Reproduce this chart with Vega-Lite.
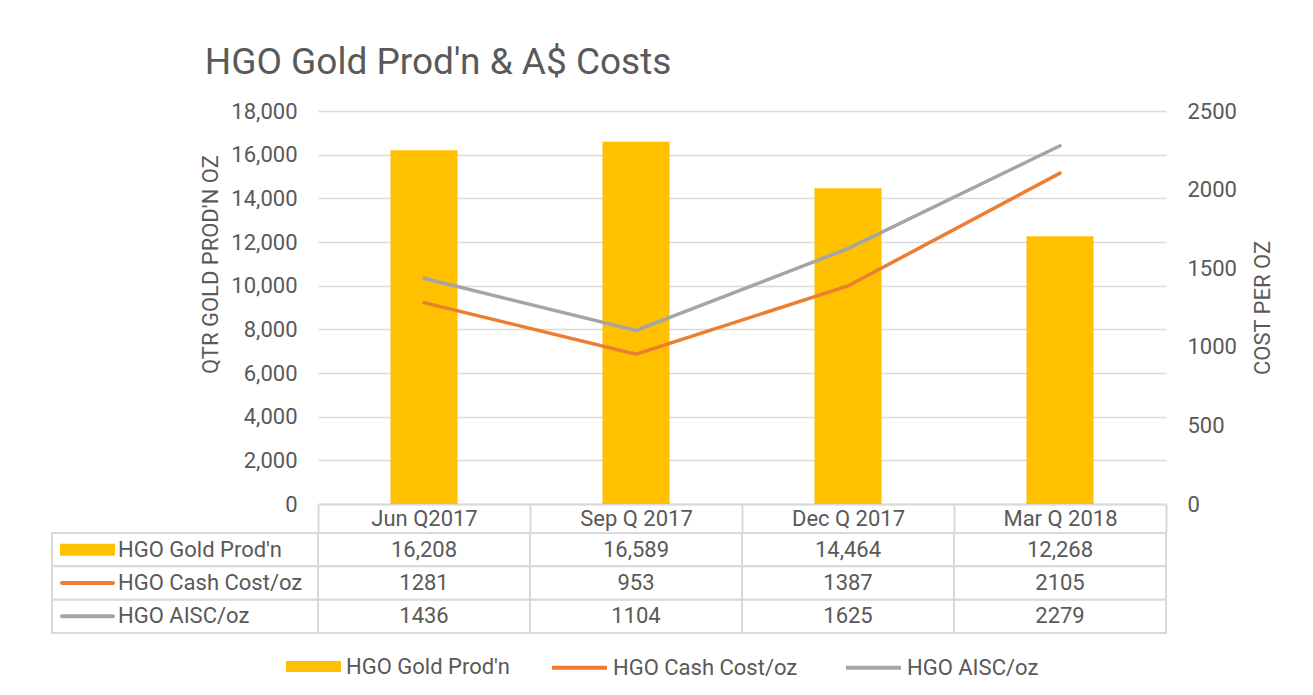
{
  "$schema": "https://vega.github.io/schema/vega-lite/v6.json",
  "background": "white",
  "padding": {"left": 51, "top": 44, "right": 5, "bottom": 5},
  "config": {
    "view": {"stroke": null},
    "font": "Roboto",
    "axis": {"labelFont": "Roboto", "titleFont": "Roboto", "labelColor": "#595959", "titleColor": "#595959", "labelFontSize": 22, "titleFontSize": 22, "titleFontWeight": "normal"},
    "legend": {"labelFont": "Roboto", "labelFontSize": 22, "labelColor": "#595959", "orient": "bottom", "direction": "horizontal", "title": null, "labelLimit": 400, "offset": 4,
      "layout": {"bottom": {"anchor": "middle", "direction": "horizontal", "margin": 40}}}
  },
  "datasets": {
    "main": [
      {"quarter": "Jun Q2017", "series": "HGO Gold Prod'n", "value": 16208},
      {"quarter": "Sep Q 2017", "series": "HGO Gold Prod'n", "value": 16589},
      {"quarter": "Dec Q 2017", "series": "HGO Gold Prod'n", "value": 14464},
      {"quarter": "Mar Q 2018", "series": "HGO Gold Prod'n", "value": 12268},
      {"quarter": "Jun Q2017", "series": "HGO Cash Cost/oz", "value": 1281},
      {"quarter": "Sep Q 2017", "series": "HGO Cash Cost/oz", "value": 953},
      {"quarter": "Dec Q 2017", "series": "HGO Cash Cost/oz", "value": 1387},
      {"quarter": "Mar Q 2018", "series": "HGO Cash Cost/oz", "value": 2105},
      {"quarter": "Jun Q2017", "series": "HGO AISC/oz", "value": 1436},
      {"quarter": "Sep Q 2017", "series": "HGO AISC/oz", "value": 1104},
      {"quarter": "Dec Q 2017", "series": "HGO AISC/oz", "value": 1625},
      {"quarter": "Mar Q 2018", "series": "HGO AISC/oz", "value": 2279}
    ],
    "rows": [
      {"series": "HGO Gold Prod'n"},
      {"series": "HGO Cash Cost/oz"},
      {"series": "HGO AISC/oz"}
    ]
  },
  "columns": 2,
  "spacing": {"row": 29, "column": 0},
  "bounds": "flush",
  "concat": [
    {
      "width": 266, "height": 393,
      "data": {"name": "rows"},
      "mark": {"type": "point", "opacity": 0},
      "encoding": {}
    },
    {
      "width": 848, "height": 393,
      "data": {"name": "main"},
      "title": {"text": "HGO Gold Prod'n & A$ Costs", "anchor": "start", "fontSize": 37, "font": "Roboto", "fontWeight": "normal", "color": "#595959", "offset": 18, "dx": 5},
      "encoding": {
        "x": {"field": "quarter", "type": "nominal", "sort": null,
          "scale": {"domain": ["Jun Q2017", "Sep Q 2017", "Dec Q 2017", "Mar Q 2018"], "paddingInner": 0, "paddingOuter": 0},
          "axis": {"title": null, "labelAngle": 0, "tickBand": "extent", "tickSize": 29, "tickColor": "#D9D9D9", "tickWidth": 2, "domainColor": "#D9D9D9", "domainWidth": 2, "labelPadding": -25, "labelBaseline": "top"}}
      },
      "layer": [
        {
          "transform": [{"filter": {"field": "series", "equal": "HGO Gold Prod'n"}}],
          "mark": {"type": "bar", "width": {"band": 0.316}},
          "encoding": {
            "y": {"field": "value", "type": "quantitative",
              "scale": {"domain": [0, 18000], "nice": false},
              "axis": {"title": "QTR GOLD PROD'N OZ", "values": [0, 2000, 4000, 6000, 8000, 10000, 12000, 14000, 16000, 18000], "format": ",d", "domain": false, "ticks": false, "labelPadding": 21, "gridColor": "#D9D9D9", "gridWidth": 1.5, "titlePadding": 8, "titleY": 153, "titleAlign": "center"}},
            "fill": {"field": "series", "type": "nominal",
              "scale": {"domain": ["HGO Gold Prod'n"], "range": ["#FFC000"]},
              "legend": {"symbolType": "M-1,-0.2H1V0.2H-1Z", "symbolSize": 3025, "labelOffset": 4}}
          }
        },
        {
          "transform": [{"filter": {"not": {"field": "series", "equal": "HGO Gold Prod'n"}}}],
          "mark": {"type": "line", "strokeWidth": 3.5, "strokeCap": "round"},
          "encoding": {
            "y": {"field": "value", "type": "quantitative",
              "scale": {"domain": [0, 2500], "nice": false},
              "axis": {"title": "COST PER OZ", "orient": "right", "values": [0, 500, 1000, 1500, 2000, 2500], "format": "d", "domain": false, "ticks": false, "grid": false, "labelPadding": 21, "titleAngle": 270, "titlePadding": 38}},
            "stroke": {"field": "series", "type": "nominal",
              "scale": {"domain": ["HGO Cash Cost/oz", "HGO AISC/oz"], "range": ["#ED7D31", "#A5A5A5"]},
              "legend": {"symbolType": "stroke", "symbolSize": 3025, "symbolStrokeWidth": 4, "labelOffset": 4, "columnPadding": 40}}
          }
        }
      ],
      "resolve": {"scale": {"y": "independent"}}
    },
    {
      "width": 266, "height": 100,
      "data": {"name": "rows"},
      "encoding": {
        "y": {"field": "series", "type": "nominal", "sort": null,
          "scale": {"domain": ["HGO Gold Prod'n", "HGO Cash Cost/oz", "HGO AISC/oz"], "paddingInner": 0, "paddingOuter": 0},
          "axis": null}
      },
      "layer": [
        {"mark": {"type": "rect", "fill": "white", "stroke": "#D9D9D9", "strokeWidth": 2}},
        {
          "transform": [{"filter": {"field": "series", "equal": "HGO Gold Prod'n"}}],
          "mark": {"type": "bar", "height": 12, "width": {"band": 1}},
          "encoding": {
            "x": {"datum": "sym", "type": "nominal", "scale": {"domain": ["sym", "l1", "l2", "l3"], "paddingInner": 0, "paddingOuter": 0.418, "align": 0.174}, "axis": null},
            "color": {"field": "series", "type": "nominal", "scale": {"domain": ["HGO Gold Prod'n", "HGO Cash Cost/oz", "HGO AISC/oz"], "range": ["#FFC000", "#ED7D31", "#A5A5A5"]}, "legend": null}
          }
        },
        {
          "transform": [{"filter": {"not": {"field": "series", "equal": "HGO Gold Prod'n"}}}],
          "mark": {"type": "bar", "height": 4, "width": {"band": 1}, "cornerRadius": 2},
          "encoding": {
            "x": {"datum": "sym", "type": "nominal"},
            "color": {"field": "series", "type": "nominal", "legend": null}
          }
        },
        {
          "mark": {"type": "text", "align": "left", "fontSize": 22, "color": "#595959", "font": "Roboto", "dx": 3},
          "encoding": {
            "x": {"datum": "l1", "type": "nominal", "bandPosition": 0},
            "text": {"field": "series"}
          }
        }
      ]
    },
    {
      "width": 848, "height": 100,
      "data": {"name": "main"},
      "encoding": {
        "x": {"field": "quarter", "type": "nominal", "sort": null,
          "scale": {"domain": ["Jun Q2017", "Sep Q 2017", "Dec Q 2017", "Mar Q 2018"], "paddingInner": 0, "paddingOuter": 0}, "axis": null},
        "y": {"field": "series", "type": "nominal", "sort": null,
          "scale": {"domain": ["HGO Gold Prod'n", "HGO Cash Cost/oz", "HGO AISC/oz"], "paddingInner": 0, "paddingOuter": 0}, "axis": null}
      },
      "layer": [
        {"mark": {"type": "rect", "fill": "white", "stroke": "#D9D9D9", "strokeWidth": 2}},
        {
          "transform": [{"filter": {"field": "series", "equal": "HGO Gold Prod'n"}}],
          "mark": {"type": "text", "fontSize": 22, "color": "#595959", "font": "Roboto"},
          "encoding": {"text": {"field": "value", "type": "quantitative", "format": ","}}
        },
        {
          "transform": [{"filter": {"not": {"field": "series", "equal": "HGO Gold Prod'n"}}}],
          "mark": {"type": "text", "fontSize": 22, "color": "#595959", "font": "Roboto"},
          "encoding": {"text": {"field": "value", "type": "quantitative", "format": "d"}}
        }
      ]
    }
  ]
}
